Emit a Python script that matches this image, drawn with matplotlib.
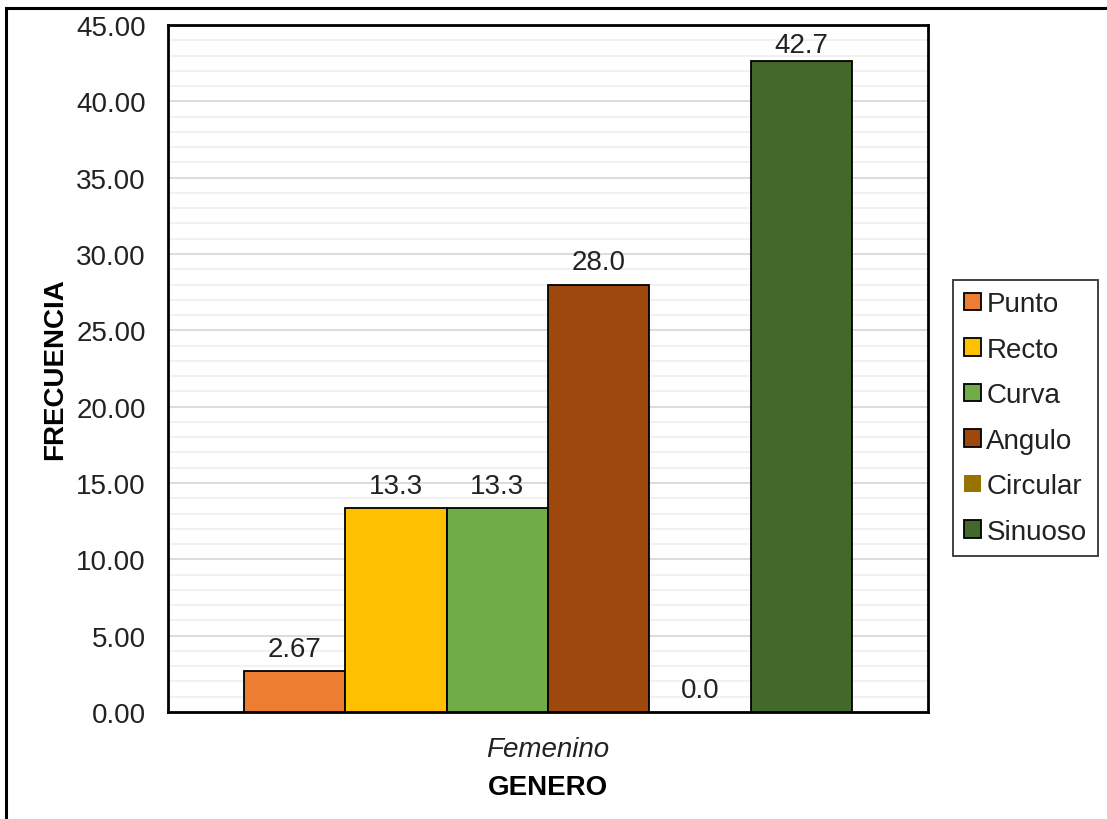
import matplotlib
matplotlib.use("Agg")
import matplotlib.pyplot as plt
from matplotlib.patches import Rectangle
from matplotlib.ticker import MultipleLocator
import numpy as np

plt.rcParams['font.family'] = ['Liberation Sans', 'DejaVu Sans']

categories = ["Femenino"]
series = ["Punto", "Recto", "Curva", "Angulo", "Circular", "Sinuoso"]
values = [2.67, 13.33, 13.33, 28.0, 0.0, 42.67]
labels = ["2.67", "13.3", "13.3", "28.0", "0.0", "42.7"]
colors = ["#ED7D31", "#FFC000", "#70AD47", "#9E480E", "#997300", "#43682B"]

W, H = 1107, 820
fig = plt.figure(figsize=(W/100, H/100), dpi=100)
ax = fig.add_axes([168/W, 1-713/H, (928-168)/W, (713-26)/H])

# figure border
fig.patches.append(Rectangle((6/W, -0.1), 1.2, 1-9/H+0.1, transform=fig.transFigure,
                             fill=False, edgecolor='black', linewidth=2.2, zorder=0))

FS = 20
n = len(series)
group_w = 0.8
bw = group_w / n
ymax = 45
for i, (s, v, lab, c) in enumerate(zip(series, values, labels, colors)):
    x = -group_w/2 + bw*(i+0.5)
    ec = 'black' if (s != "Circular" and v > 0) else 'none'
    ax.bar(x, v, width=bw, color=c, edgecolor=ec, linewidth=1.3, label=s, zorder=3)
    ty = min(v + 1.0, ymax - 1.75)
    ax.text(x, ty, lab, ha='center', va='baseline', fontsize=FS, color='#222222', zorder=4)

yt = np.arange(0, ymax + 1, 5)
ax.set_yticks(yt)
ax.set_yticklabels([f"{t:.2f}" for t in yt])
ax.yaxis.set_minor_locator(MultipleLocator(1))
ax.set_xlim(-0.5, 0.5)
ax.set_ylim(0, ymax)
ax.grid(axis='y', which='major', color='#d9d9d9', linewidth=1.3, zorder=0)
ax.grid(axis='y', which='minor', color='#f0f0f0', linewidth=1.3, zorder=0)
ax.set_axisbelow(True)
ax.set_xticks([0])
ax.set_xticklabels(categories)
ax.tick_params(axis='both', which='both', length=0, labelsize=FS, colors='#222222')
ax.tick_params(axis='y', pad=16)
ax.tick_params(axis='x', pad=17)
for lbl in ax.get_xticklabels():
    lbl.set_style('italic')
for sp in ax.spines.values():
    sp.set_linewidth(2)
    sp.set_color('black')
ax.set_ylabel("FRECUENCIA", fontsize=FS, fontweight='bold', labelpad=6)
ax.set_xlabel("GENERO", fontsize=FS, fontweight='bold', labelpad=9)

handles, lbls = ax.get_legend_handles_labels()
leg = fig.legend(handles, lbls, loc='center left', bbox_to_anchor=(953/W, 1-419/H),
                 fontsize=FS, frameon=True, fancybox=False, edgecolor='black',
                 handlelength=0.6, handleheight=0.6, handletextpad=0.2,
                 labelspacing=0.7, borderpad=0.4, borderaxespad=0)
leg.get_frame().set_linewidth(1.3)
for t in leg.get_texts():
    t.set_color('#222222')

fig.savefig("out.png", dpi=100)
